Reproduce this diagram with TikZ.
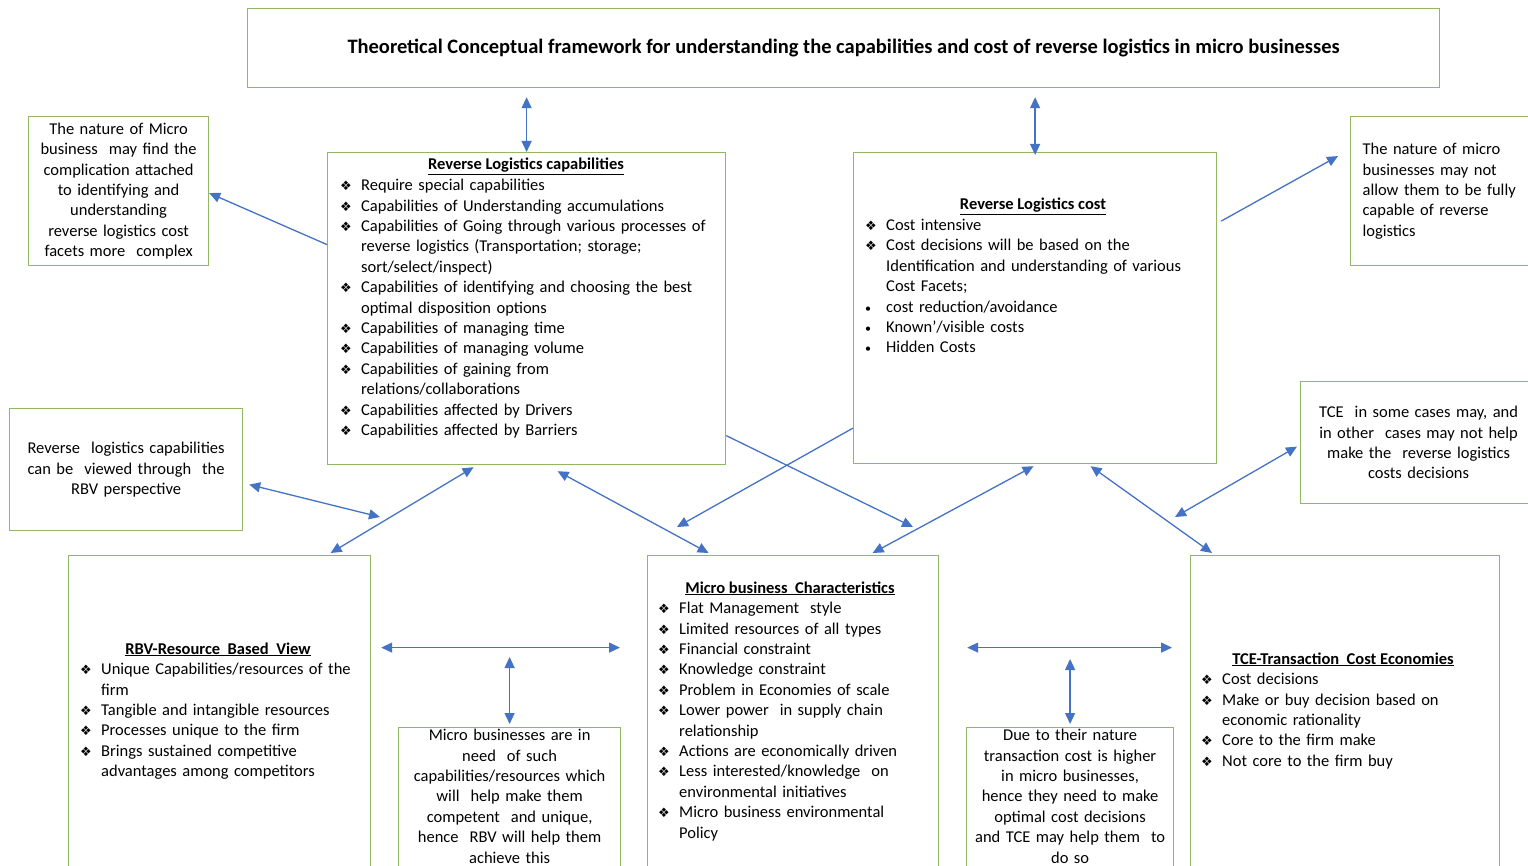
\documentclass[tikz,border=0pt]{standalone}
\usepackage{fontspec}
\setmainfont{Carlito}
\newfontfamily\symfont{DejaVu Sans}
\usetikzlibrary{arrows.meta}

\definecolor{boxgreen}{RGB}{146,182,100}
\definecolor{linkblue}{RGB}{68,114,196}

\newcommand\bodysize{\fontsize{16.5}{20.4}\selectfont}
\newcommand\ditem[1]{\hangindent=21pt\hangafter=1\noindent\makebox[21pt][l]{\symfont\fontsize{13}{13}\selectfont ❖}#1\par}
\newcommand\bitem[1]{\hangindent=21pt\hangafter=1\noindent\makebox[21pt][l]{\fontsize{12}{12}\selectfont •}#1\par}
\newcommand\boxhead[1]{\underline{\textbf{#1}}}

\tikzset{
  frame/.style={draw=boxgreen, line width=1.2pt, anchor=north west, inner sep=0pt},
  note/.style={draw=boxgreen, line width=1.2pt, font=\bodysize, align=center, inner sep=2pt},
  notetext/.style={font=\bodysize, align=center, inner sep=0pt, anchor=north},
  itemlist/.style={font=\bodysize, align=left, text width=#1, inner sep=0pt, anchor=north west},
  head/.style={font=\bodysize, anchor=base, inner sep=0pt},
  link/.style={draw=linkblue, line width=1.3pt, -{Triangle[length=11pt,width=10pt]}},
  both/.style={link, {Triangle[length=11pt,width=10pt]}-{Triangle[length=11pt,width=10pt]}},
}

\begin{document}
\begin{tikzpicture}[x=1pt, y=-1pt]
  \useasboundingbox (0,0) rectangle (1528,866);

  % title
  \node[frame, minimum width=1192pt, minimum height=79pt, font=\fontsize{20.5}{24}\selectfont\bfseries] (title) at (247,8)
    {Theoretical Conceptual framework for understanding the capabilities and cost of reverse logistics in micro businesses};

  % reverse logistics capabilities
  \node[frame, minimum width=398pt, minimum height=312pt] (capbox) at (327,152) {};
  \node[head] (caphead) at (526,170) {\boxhead{Reverse Logistics capabilities}};
  \node[itemlist=385pt] (caplist) at (340,179) {%
    \ditem{Require special capabilities}
    \ditem{Capabilities of Understanding accumulations}
    \ditem{Capabilities of Going through various processes of\newline reverse logistics (Transportation; storage;\newline sort/select/inspect)}
    \ditem{Capabilities of identifying and choosing the best\newline optimal disposition options}
    \ditem{Capabilities of managing time}
    \ditem{Capabilities of managing volume}
    \ditem{Capabilities of gaining from\newline relations/collaborations}
    \ditem{Capabilities affected by Drivers}
    \ditem{Capabilities affected by Barriers}};

  % reverse logistics cost
  \node[frame, minimum width=363pt, minimum height=311pt] (costbox) at (853,152) {};
  \node[head] (costhead) at (1033,210) {\boxhead{Reverse Logistics cost}};
  \node[itemlist=345pt] (costlist) at (865,219) {%
    \ditem{Cost intensive}
    \ditem{Cost decisions will be based on the\newline Identification and understanding of various\newline Cost Facets;}
    \bitem{cost reduction/avoidance}
    \bitem{Known’/visible costs}
    \bitem{Hidden Costs}};

  % side notes
  \node[note, anchor=north west, minimum width=180pt, minimum height=149pt, text width=176pt] (nature) at (28,116)
    {The nature of Micro\\business\ \ may find the\\complication attached\\to identifying and\\understanding\\reverse logistics cost\\facets more\ \ complex};
  \node[note, anchor=north west, minimum width=190pt, minimum height=149pt, text width=166pt, align=left, inner xsep=12pt] (natmicro) at (1350,116)
    {The nature of micro\\businesses may not\\allow them to be fully\\capable of reverse\\logistics};
  \node[note, anchor=north west, minimum width=233pt, minimum height=122pt, text width=229pt] (rbvview) at (9,408)
    {Reverse\ \ logistics capabilities\\can be\ \ viewed through\ \ the\\RBV perspective};
  \node[note, anchor=north west, minimum width=236pt, minimum height=122pt, text width=232pt] (tcenote) at (1300,381)
    {TCE\ \ in some cases may, and\\in other\ \ cases may not help\\make the\ \ reverse logistics\\costs decisions};

  % resource based view
  \node[frame, minimum width=302pt, minimum height=330pt] (rbvbox) at (68,555) {};
  \node[head] (rbvhead) at (218,654) {\boxhead{RBV-Resource\ \ Based\ \ View}};
  \node[itemlist=290pt] (rbvlist) at (80,663) {%
    \ditem{Unique Capabilities/resources of the\newline firm}
    \ditem{Tangible and intangible resources}
    \ditem{Processes unique to the firm}
    \ditem{Brings sustained competitive\newline advantages among competitors}};

  % micro business characteristics
  \node[frame, minimum width=291pt, minimum height=330pt] (microbox) at (647,555) {};
  \node[head] (microhead) at (790,593) {\boxhead{Micro business\ \ Characteristics}};
  \node[itemlist=278pt] (microlist) at (658,602) {%
    \ditem{Flat Management\ \ style}
    \ditem{Limited resources of all types}
    \ditem{Financial constraint}
    \ditem{Knowledge constraint}
    \ditem{Problem in Economies of scale}
    \ditem{Lower power\ \ in supply chain\newline relationship}
    \ditem{Actions are economically driven}
    \ditem{Less interested/knowledge\ \ on\newline environmental initiatives}
    \ditem{Micro business environmental\newline Policy}};

  % transaction cost economies
  \node[frame, minimum width=309pt, minimum height=330pt] (tcebox) at (1190,555) {};
  \node[head] (tcehead) at (1343,664) {\boxhead{TCE-Transaction\ \ Cost Economies}};
  \node[itemlist=295pt] (tcelist) at (1201,673) {%
    \ditem{Cost decisions}
    \ditem{Make or buy decision based on\newline economic rationality}
    \ditem{Core to the firm make}
    \ditem{Not core to the firm buy}};

  % bottom notes
  \node[frame, minimum width=222pt, minimum height=160pt] (need) at (398,727) {};
  \node[notetext, text width=222pt] (needtxt) at ([yshift=-2pt]need.north)
    {Micro businesses are in\\need\ \ of such\\capabilities/resources which\\will\ \ help make them\\competent\ \ and unique,\\hence\ \ RBV will help them\\achieve this};
  \node[frame, minimum width=207pt, minimum height=160pt] (due) at (966,727) {};
  \node[notetext, text width=207pt] (duetxt) at ([yshift=-2pt]due.north)
    {Due to their nature\\transaction cost is higher\\in micro businesses,\\hence they need to make\\optimal cost decisions\\and TCE may help them\ \ to\\do so};

  \coordinate (capjoin) at (380,517);
  \coordinate (costdrop) at (677,527);
  \coordinate (capdrop) at (913,527);
  \coordinate (tcejoin) at (1175,517);

  % connectors
  \draw[both] ([yshift=-9pt]title.south -| capbox.north) -- (capbox.north);
  \draw[both] ([yshift=-9pt]title.south -| costbox.north) -- ([yshift=-3pt]costbox.north);
  \draw[link] ([yshift=64pt]capbox.west) -- ([yshift=-2pt]nature.east);
  \draw[link] ([xshift=4pt,yshift=87pt]costbox.east) -- ([xshift=-12pt,yshift=35pt]natmicro.west);
  \draw[both] ([xshift=6pt,yshift=-15pt]rbvview.east) -- (capjoin);
  \draw[both] ([xshift=-53pt,yshift=-2pt]capbox.south) -- ([xshift=111pt,yshift=2pt]rbvbox.north);
  \draw[both] ([xshift=31pt,yshift=-6pt]capbox.south) -- ([xshift=-84.5pt,yshift=2pt]microbox.north);
  \draw[link] ([yshift=-120pt]costbox.west) -- (costdrop);
  \draw[link] ([yshift=-127pt]capbox.east) -- (capdrop);
  \draw[both] ([xshift=79.5pt,yshift=2pt]microbox.north) -- ([xshift=-1.5pt,yshift=-2pt]costbox.south);
  \draw[both] ([xshift=55.5pt,yshift=-2pt]costbox.south) -- ([xshift=22pt,yshift=2pt]tcebox.north west);
  \draw[both] ([xshift=-3pt,yshift=-4pt]tcenote.west) -- (tcejoin);
  \draw[both] ([xshift=10pt,yshift=73pt]rbvbox.east) -- ([xshift=-27pt,yshift=73pt]microbox.west);
  \draw[both] ([yshift=70pt]need.north) -- ([yshift=3pt]need.north);
  \draw[both] ([xshift=28pt,yshift=73pt]microbox.east) -- ([xshift=-18pt,yshift=73pt]tcebox.west);
  \draw[both] ([yshift=68pt]due.north) -- ([yshift=3pt]due.north);
\end{tikzpicture}
\end{document}
